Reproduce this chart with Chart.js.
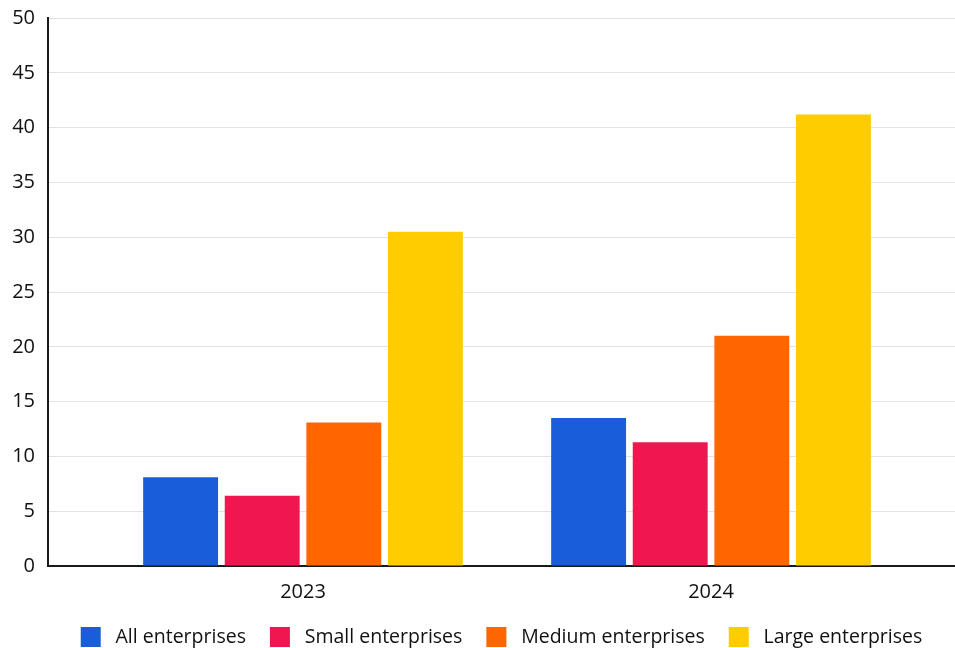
<!DOCTYPE html>
<html>
<head>
<meta charset="utf-8">
<script src="https://cdn.jsdelivr.net/npm/chart.js@4/dist/chart.umd.min.js"></script>
<style>
  html, body { margin: 0; padding: 0; background: #fff; }
  #wrap { width: 955px; height: 648px; position: relative; }
</style>
</head>
<body>
<div id="wrap"><canvas id="chartBars"></canvas></div>
<script>
const years = ["2023", "2024"];
const seriesLabels = ["All enterprises", "Small enterprises", "Medium enterprises", "Large enterprises"];
const allEnterprises = [8.1, 13.5];
const smallEnterprises = [6.4, 11.3];
const mediumEnterprises = [13.1, 21.0];
const largeEnterprises = [30.5, 41.2];
const yTicks = [0, 5, 10, 15, 20, 25, 30, 35, 40, 45, 50];

const colorPalette = ["#195ddb", "#ee1750", "#ff6600", "#ffcc00"];
const seriesValues = [allEnterprises, smallEnterprises, mediumEnterprises, largeEnterprises];

const datasets = seriesValues.map((values, index) => ({
    label: seriesLabels[index],
    data: values.map((v, i) => ({ x: i, y: v })),
    backgroundColor: colorPalette[index],
    borderWidth: 0,
    categoryPercentage: 0.8,
    barPercentage: 0.918,
}));

const fontFamily = "'Open Sans', sans-serif";
const ctx = document.getElementById("chartBars").getContext('2d');
new Chart(ctx, {
    type: "bar",
    data: { datasets: datasets },
    options: {
        responsive: true,
        maintainAspectRatio: false,
        animation: false,
        layout: { padding: { top: 18, left: 0, right: 0, bottom: -9 } },
        scales: {
            x: {
                type: 'linear',
                offset: false,
                min: -0.625,
                max: 1.598,
                afterBuildTicks: (axis) => {
                    axis.ticks = years.map((y, i) => ({ value: i }));
                },
                afterFit: (axis) => { axis.height -= 15; },
                grid: { display: true, drawOnChartArea: false, drawTicks: false, offset: false },
                border: { display: true, color: '#1a1a1a', width: 2 },
                ticks: {
                    padding: 14,
                    color: '#111',
                    font: { family: fontFamily, size: 20 },
                    callback: (v) => years[v]
                }
            },
            y: {
                min: 0,
                max: 50,
                afterBuildTicks: (axis) => {
                    axis.ticks = yTicks.map(v => ({ value: v }));
                },
                afterFit: (axis) => {
                    axis.width = 48;
                    axis.paddingTop = 0;
                    axis.paddingBottom = 0;
                },
                grid: { color: '#e3e3e3', drawTicks: false },
                border: { display: true, color: '#1a1a1a', width: 2 },
                ticks: {
                    padding: 13,
                    color: '#111',
                    font: { family: fontFamily, size: 20 }
                }
            }
        },
        plugins: {
            legend: {
                display: true,
                position: 'bottom',
                fullSize: false,
                labels: {
                    boxWidth: 20,
                    boxHeight: 20,
                    padding: 24,
                    color: '#111',
                    font: { family: fontFamily, size: 19.5 },
                    generateLabels: (chart) => {
                        const items = Chart.defaults.plugins.legend.labels.generateLabels(chart);
                        items.forEach(item => { item.text = ' ' + item.text; });
                        return items;
                    }
                }
            },
            tooltip: { enabled: false }
        }
    }
});
</script>
</body>
</html>
